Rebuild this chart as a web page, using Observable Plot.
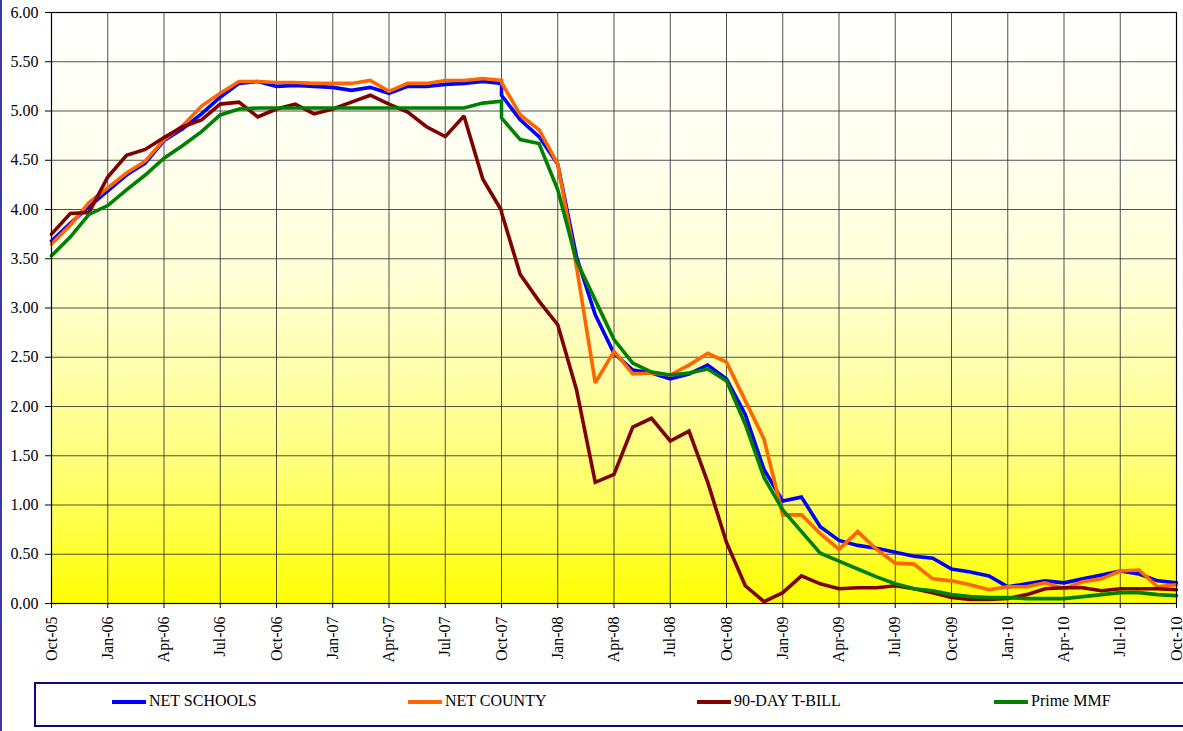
<!DOCTYPE html>
<html>
<head>
<meta charset="utf-8">
<script src="https://cdn.jsdelivr.net/npm/d3@7"></script>
<script src="https://cdn.jsdelivr.net/npm/@observablehq/plot@0.6"></script>
<style>
  html, body { margin: 0; padding: 0; background: #fff; }
  body { width: 1183px; height: 731px; position: relative; overflow: hidden;
         font-family: "Liberation Serif", "Times New Roman", Times, Tinos, "Nimbus Roman", "DejaVu Serif", serif; }
  #edge { position: absolute; left: 0; top: 0; width: 2px; height: 731px; background: #3a3aa6; }
  #chart { position: absolute; left: 0; top: 0; }
  #legend { position: absolute; left: 34px; top: 682px; width: 1170px; height: 45px;
            border: 2.5px solid #0a0a80; box-sizing: border-box; background: #fff; }
  .sw { position: absolute; top: 16px; height: 4px; width: 34px; }
  .lt { position: absolute; top: 8px; font-size: 16px; line-height: 18px; color: #000; white-space: nowrap; }
  #chart svg text { font-family: "Liberation Serif", "Times New Roman", Times, Tinos, "Nimbus Roman", "DejaVu Serif", serif; }
</style>
</head>
<body>
<div id="chart"></div>
<div id="edge"></div>
<div id="legend"></div>
<script>
// Month of each observation (Oct-07 appears twice: two readings in that month)
const months = [
  "Oct-05","Nov-05","Dec-05","Jan-06","Feb-06","Mar-06","Apr-06","May-06","Jun-06","Jul-06","Aug-06","Sep-06",
  "Oct-06","Nov-06","Dec-06","Jan-07","Feb-07","Mar-07","Apr-07","May-07","Jun-07","Jul-07","Aug-07","Sep-07",
  "Oct-07","Oct-07","Nov-07","Dec-07","Jan-08","Feb-08","Mar-08","Apr-08","May-08","Jun-08","Jul-08","Aug-08","Sep-08",
  "Oct-08","Nov-08","Dec-08","Jan-09","Feb-09","Mar-09","Apr-09","May-09","Jun-09","Jul-09","Aug-09","Sep-09",
  "Oct-09","Nov-09","Dec-09","Jan-10","Feb-10","Mar-10","Apr-10","May-10","Jun-10","Jul-10","Aug-10","Sep-10","Oct-10"
];

const netSchools = [
  3.68,3.86,4.03,4.19,4.35,4.47,4.70,4.82,4.97,5.14,5.28,5.30,
  5.25,5.26,5.25,5.24,5.21,5.24,5.18,5.25,5.25,5.27,5.28,5.30,
  5.28,5.16,4.91,4.74,4.46,3.52,2.93,2.54,2.37,2.34,2.28,2.33,2.42,
  2.28,1.92,1.36,1.04,1.08,0.78,0.64,0.59,0.56,0.52,0.48,0.46,
  0.35,0.32,0.28,0.17,0.20,0.23,0.21,0.25,0.29,0.33,0.30,0.23,0.21
];
const netCounty = [
  3.65,3.84,4.07,4.22,4.37,4.49,4.71,4.85,5.05,5.18,5.30,5.30,
  5.29,5.29,5.28,5.28,5.28,5.31,5.20,5.28,5.28,5.31,5.31,5.33,
  5.31,5.29,4.96,4.81,4.46,3.42,2.24,2.56,2.33,2.34,2.32,2.42,2.54,
  2.45,2.06,1.67,0.90,0.90,0.71,0.55,0.73,0.55,0.41,0.40,0.25,
  0.23,0.19,0.14,0.17,0.17,0.21,0.15,0.22,0.25,0.33,0.34,0.17,0.19
];
const tBill90 = [
  3.75,3.96,3.97,4.33,4.55,4.61,4.73,4.84,4.91,5.07,5.09,4.94,
  5.02,5.07,4.97,5.02,5.09,5.16,5.07,4.99,4.84,4.74,4.95,4.31,
  3.99,3.97,3.34,3.07,2.83,2.17,1.23,1.31,1.79,1.88,1.65,1.75,1.23,
  0.62,0.18,0.02,0.11,0.28,0.20,0.15,0.16,0.16,0.18,0.15,0.11,
  0.06,0.04,0.04,0.05,0.09,0.15,0.16,0.16,0.13,0.15,0.15,0.15,0.14
];
const primeMMF = [
  3.53,3.72,3.95,4.04,4.20,4.35,4.52,4.65,4.79,4.96,5.02,5.03,
  5.03,5.03,5.03,5.03,5.03,5.03,5.03,5.03,5.03,5.03,5.03,5.08,
  5.10,4.93,4.71,4.67,4.20,3.48,3.08,2.68,2.44,2.35,2.32,2.34,2.38,
  2.26,1.82,1.28,0.95,0.73,0.51,0.43,0.35,0.27,0.20,0.15,0.13,
  0.09,0.07,0.06,0.06,0.05,0.05,0.05,0.07,0.09,0.11,0.11,0.09,0.08
];

const seriesNames = ["NET SCHOOLS", "NET COUNTY", "90-DAY T-BILL", "Prime MMF"];
const seriesValues = [netSchools, netCounty, tBill90, primeMMF];
const seriesColors = ["#0000ff", "#ff6600", "#800000", "#008000"];
const yTicks = [0, 0.5, 1, 1.5, 2, 2.5, 3, 3.5, 4, 4.5, 5, 5.5, 6];

// category axis: one slot per distinct month
const monthSlots = Array.from(new Set(months));
const tickEvery = 3;

const rows = [];
seriesNames.forEach((name, s) => {
  seriesValues[s].forEach((v, k) => {
    rows.push({series: name, slot: monthSlots.indexOf(months[k]), value: v});
  });
});

const xTicks = d3.range(0, monthSlots.length, tickEvery);
const serifStack = "'Liberation Serif', 'Times New Roman', Times, Tinos, 'Nimbus Roman', 'DejaVu Serif', serif";

const plot = Plot.plot({
  width: 1183,
  height: 672,
  marginLeft: 51,
  marginRight: 7,
  marginTop: 12,
  marginBottom: 69,
  style: {fontFamily: serifStack, fontSize: "16px", color: "#000", background: "transparent"},
  x: {domain: [0, monthSlots.length - 1], label: null},
  y: {domain: [0, 6], label: null},
  color: {domain: seriesNames, range: seriesColors},
  marks: [
    Plot.frame({fill: "url(#bgGrad)", stroke: "none"}),
    Plot.gridX(xTicks, {stroke: "#333", strokeOpacity: 0.85, strokeWidth: 1}),
    Plot.gridY(yTicks, {stroke: "#333", strokeOpacity: 0.85, strokeWidth: 1}),
    Plot.line(rows, {x: "slot", y: "value", z: "series", stroke: "series", strokeWidth: 3.6, strokeLinejoin: "miter", strokeMiterlimit: 2}),
    Plot.frame({stroke: "#000", strokeWidth: 1.2}),
    Plot.axisY(yTicks, {tickSize: 6, tickPadding: 7, tickFormat: d3.format(".2f"), label: null, stroke: "#000", fontSize: 16}),
    Plot.axisX(xTicks, {tickSize: 5, tickPadding: 8, tickRotate: -90, tickFormat: i => monthSlots[i], label: null, stroke: "#000", fontSize: 16})
  ]
});

// background gradient (white at top to yellow at the bottom)
const svg = d3.select(plot);
svg.selectAll("text").style("font-family", serifStack);
const defs = svg.insert("defs", ":first-child");
const g = defs.append("linearGradient").attr("id", "bgGrad")
  .attr("x1", 0).attr("y1", 0).attr("x2", 0).attr("y2", 1);
[[0, "#ffffff"], [0.25, "#fffff0"], [0.45, "#ffffd6"], [0.6, "#ffffae"], [0.75, "#ffff80"], [0.86, "#ffff4c"], [1, "#ffff00"]]
  .forEach(([o, c]) => g.append("stop").attr("offset", o).attr("stop-color", c));

document.getElementById("chart").appendChild(plot);

// legend
const legendX = [[76, 113], [372, 409], [661, 698], [958, 995]];
const legend = document.getElementById("legend");
seriesNames.forEach((name, s) => {
  const sw = document.createElement("div");
  sw.className = "sw";
  sw.style.left = legendX[s][0] + "px";
  sw.style.background = seriesColors[s];
  legend.appendChild(sw);
  const t = document.createElement("span");
  t.className = "lt";
  t.style.left = legendX[s][1] + "px";
  t.textContent = name;
  legend.appendChild(t);
});
</script>
</body>
</html>
